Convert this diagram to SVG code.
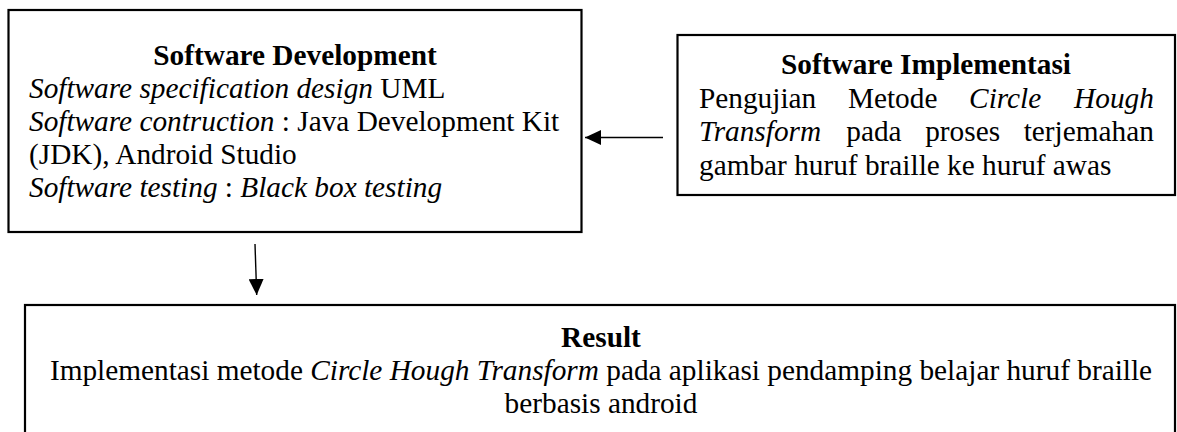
<svg xmlns="http://www.w3.org/2000/svg" width="1177" height="432" viewBox="0 0 1177 432">
<defs>
<style>
.box{fill:#fff;stroke:#000;stroke-width:2.2}
.t{font-family:"Liberation Serif","Times New Roman",serif;font-size:29.3px;fill:#000}
.b{font-weight:bold}
.i{font-style:italic}
.c{text-anchor:middle}
.conn{stroke:#000;stroke-width:1.4;fill:none}
</style>
<marker id="ah" markerUnits="userSpaceOnUse" markerWidth="16" markerHeight="15" refX="16" refY="7.5" orient="auto">
<path d="M0,0 L16,7.5 L0,15 Z" fill="#000"/>
</marker>
</defs>
<rect width="1177" height="432" fill="#fff"/>
<g id="software-development">
<rect class="box" x="8.5" y="10" width="573" height="222"/>
<text class="t b c" x="295" y="65">Software Development</text>
<text class="t" x="29" y="98"><tspan class="i">Software specification design</tspan> UML</text>
<text class="t" x="29" y="131"><tspan class="i">Software contruction</tspan> : Java Development Kit</text>
<text class="t" x="29" y="164">(JDK), Android Studio</text>
<text class="t" x="29" y="197"><tspan class="i">Software testing</tspan> : <tspan class="i">Black box testing</tspan></text>
</g>
<g id="software-implementasi">
<rect class="box" x="677.5" y="35" width="497.5" height="160"/>
<text class="t b c" x="926" y="74">Software Implementasi</text>
<text class="t" y="107.5"><tspan x="699">Pengujian</tspan><tspan x="847.9">Metode</tspan><tspan class="i" x="969.1">Circle</tspan><tspan class="i" x="1074.1">Hough</tspan></text>
<text class="t" y="141"><tspan class="i" x="699">Transform</tspan><tspan x="846.3">pada</tspan><tspan x="925.2">proses</tspan><tspan x="1023.7">terjemahan</tspan></text>
<text class="t" x="699" y="174.5">gambar huruf braille ke huruf awas</text>
</g>
<g id="result">
<rect class="box" x="25" y="305" width="1150" height="140"/>
<text class="t b c" x="601" y="347">Result</text>
<text class="t c" x="601" y="380">Implementasi metode <tspan class="i">Circle Hough Transform</tspan> pada aplikasi pendamping belajar huruf braille</text>
<text class="t c" x="601" y="413">berbasis android</text>
</g>
<g id="connectors">
<line class="conn" x1="663" y1="137.5" x2="585" y2="137.5" marker-end="url(#ah)"/>
<line class="conn" x1="255" y1="244" x2="256.7" y2="295" marker-end="url(#ah)"/>
</g>
</svg>
